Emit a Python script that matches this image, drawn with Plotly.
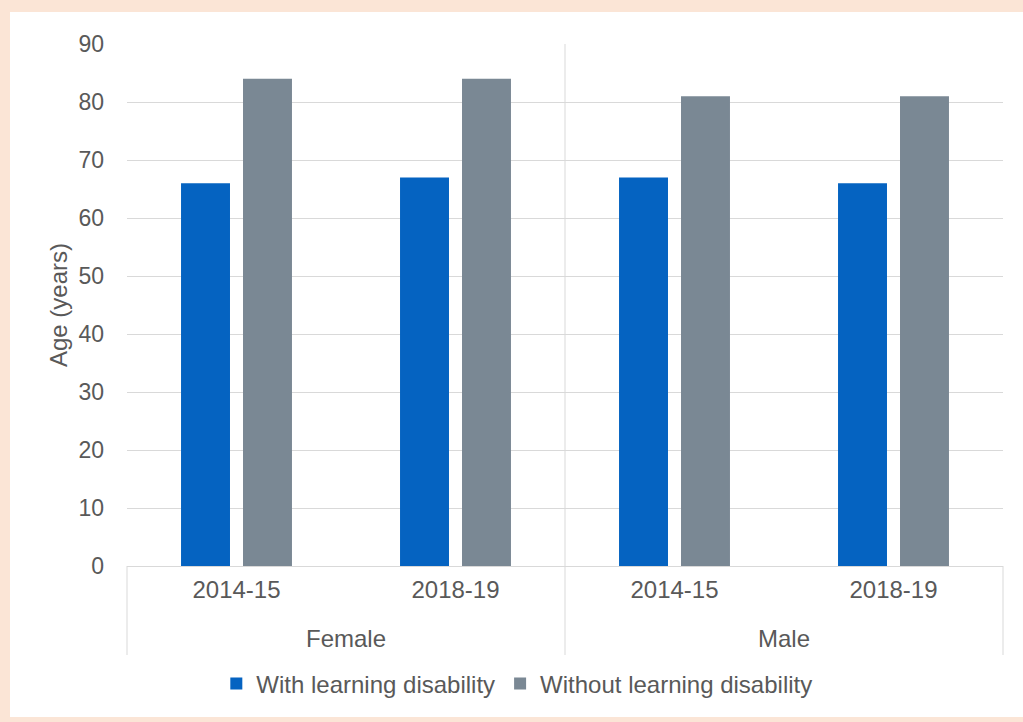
import plotly.graph_objects as go

sexes = ["Female", "Female", "Male", "Male"]
years = ["2014-15", "2018-19", "2014-15", "2018-19"]
with_ld = [66, 67, 67, 66]
without_ld = [84, 84, 81, 81]
y_ticks = [0, 10, 20, 30, 40, 50, 60, 70, 80, 90]
groups = ["Female", "Male"]

FONT = "Liberation Sans, Arial, sans-serif"
TXT = "#595959"
GRID = "#d9d9d9"

keys = [f"{s} {y}" for s, y in zip(sexes, years)]

fig = go.Figure()
fig.add_trace(go.Bar(x=keys, y=with_ld, name="With learning disability",
                     marker=dict(color="#0563c1", line=dict(width=0))))
fig.add_trace(go.Bar(x=keys, y=without_ld, name="Without learning disability",
                     marker=dict(color="#7a8894", line=dict(width=0))))

# group label positions = centre of each group's categories
group_pos = [sum(i for i, s in enumerate(sexes) if s == g) / sexes.count(g) for g in groups]

W, H = 1023, 722
L, R, T, B = 127, 20, 44, 156
pw, ph = W - L - R, H - T - B

def px(x):
    return (x - L) / pw

def py(y):
    return (H - B - y) / ph

div_bottom = py(655)
shapes = [
    dict(type="rect", xref="paper", yref="paper", x0=px(10), x1=px(1023), y0=py(717), y1=py(12),
         fillcolor="white", line=dict(width=0), layer="below"),
    dict(type="line", xref="paper", yref="paper", x0=0.5, x1=0.5, y0=div_bottom, y1=1,
         line=dict(color=GRID, width=1), layer="below"),
    dict(type="line", xref="paper", yref="paper", x0=0, x1=0, y0=div_bottom, y1=0,
         line=dict(color=GRID, width=1), layer="below"),
    dict(type="line", xref="paper", yref="paper", x0=1, x1=1, y0=div_bottom, y1=0,
         line=dict(color=GRID, width=1), layer="below"),
]

annotations = [
    dict(text=g, x=p, xref="x", y=py(638), yref="paper", yanchor="middle", xanchor="center",
         showarrow=False, font=dict(size=24, color=TXT, family=FONT))
    for g, p in zip(groups, group_pos)
]

fig.update_layout(
    width=W, height=H,
    margin=dict(l=L, r=R, t=T, b=B),
    paper_bgcolor="#fbe5d6",
    plot_bgcolor="white",
    font=dict(family=FONT, size=24, color=TXT),
    barmode="group",
    bargap=0.434,
    bargroupgap=0.21,
    shapes=shapes,
    annotations=annotations,
    showlegend=True,
    legend=dict(orientation="h", x=0.445, xanchor="center", y=py(684), yanchor="middle",
                font=dict(size=24, color=TXT), bgcolor="rgba(0,0,0,0)"),
    xaxis=dict(type="category", tickvals=keys, ticktext=years, showline=True, linecolor=GRID,
               linewidth=1, ticks="", showgrid=False, ticklabelstandoff=2,
               tickfont=dict(size=24, color=TXT), range=[-0.5, len(keys) - 0.5]),
    yaxis=dict(range=[0, 90], tickvals=y_ticks, showgrid=True, gridcolor=GRID, gridwidth=1,
               zeroline=False, showline=False, ticks="", ticklabelstandoff=22,
               tickfont=dict(size=23, color=TXT),
               title=dict(text="Age (years)", font=dict(size=24, color=TXT), standoff=4)),
)

fig.write_html("out.html")
